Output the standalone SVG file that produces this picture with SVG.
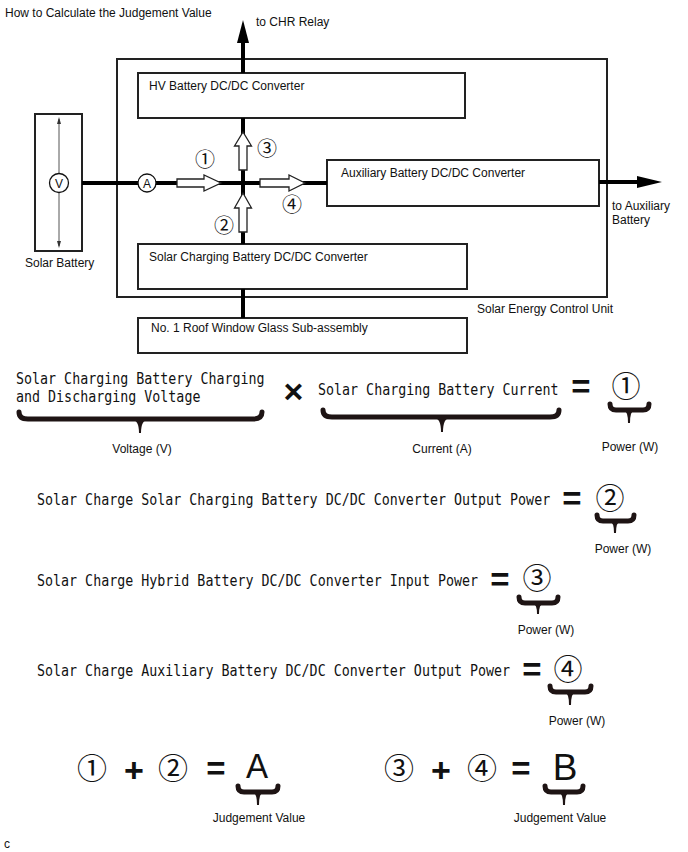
<svg xmlns="http://www.w3.org/2000/svg" width="688" height="852" viewBox="0 0 688 852">
<style>
.box{fill:#fff;stroke:#222;stroke-width:2}
.frame{fill:none;stroke:#222;stroke-width:2}
.wire{stroke:#000;stroke-width:4;fill:none}
.head{fill:#000}
.hollow{fill:#fff;stroke:#222;stroke-width:1.3;stroke-linejoin:miter}
.lbl{font-family:"Liberation Sans",Arial,sans-serif;font-size:12px;fill:#111}
.mono{font-family:"DejaVu Sans Mono","Liberation Mono",monospace;font-size:16.5px;fill:#111}
.circ{font-family:"Noto Sans CJK JP","DejaVu Sans",sans-serif;fill:#111}
.sym{font-family:"Liberation Sans",Arial,sans-serif;fill:#111}
.eq{font-family:"Liberation Sans",Arial,sans-serif;font-size:33px;font-weight:bold;fill:#111}
.brace{stroke:#1e1414;stroke-width:5;fill:none;stroke-linecap:round}
.tip{fill:#1e1414}
.meter{fill:#fff;stroke:#111;stroke-width:1.3}
</style>
<rect width="688" height="852" fill="#fff"/>
<text class="lbl" x="5" y="17">How to Calculate the Judgement Value</text>

<g id="control-unit">
<rect class="frame" x="117" y="59" width="490" height="238"/>
<text class="lbl" x="477" y="313">Solar Energy Control Unit</text>
</g>
<g id="hv-converter">
<rect class="box" x="138" y="73" width="327" height="45"/>
<text class="lbl" x="149" y="90">HV Battery DC/DC Converter</text>
</g>
<g id="aux-converter">
<rect class="box" x="327" y="160" width="272" height="46"/>
<text class="lbl" x="341" y="177">Auxiliary Battery DC/DC Converter</text>
</g>
<g id="solar-converter">
<rect class="box" x="138" y="244" width="329" height="45"/>
<text class="lbl" x="149" y="261">Solar Charging Battery DC/DC Converter</text>
</g>
<g id="roof-glass">
<rect class="box" x="138" y="318" width="329" height="35"/>
<text class="lbl" x="151" y="332">No. 1 Roof Window Glass Sub-assembly</text>
</g>
<g id="solar-battery">
<rect class="box" x="35" y="114" width="47" height="137"/>
<line x1="59" y1="119" x2="59" y2="246" stroke="#555" stroke-width="1"/>
<polygon points="57,124 61,124 59,117" fill="#333"/>
<polygon points="57,241 61,241 59,248" fill="#333"/>
<text class="lbl" x="25" y="267">Solar Battery</text>
</g>

<g id="connectors">
<line class="wire" x1="243" y1="73" x2="243" y2="42"/>
<polygon class="head" points="237,43 249,43 243,20"/>
<line class="wire" x1="243" y1="118" x2="243" y2="244"/>
<line class="wire" x1="82" y1="183" x2="327" y2="183"/>
<line class="wire" x1="599" y1="182" x2="638" y2="182"/>
<polygon class="head" points="637,176 637,188 662,182"/>
<line class="wire" x1="243" y1="289" x2="243" y2="318"/>
<circle class="meter" cx="59" cy="183" r="9.5"/>
<text class="lbl" x="59" y="187.5" text-anchor="middle" font-size="13">V</text>
<circle class="meter" cx="147" cy="183" r="9"/>
<text class="lbl" x="147" y="187.5" text-anchor="middle" font-size="13">A</text>
<polygon class="hollow" points="177,179 204,179 204,175 221,183 204,191 204,187 177,187"/>
<polygon class="hollow" points="260,179 289,179 289,175 305,183 289,191 289,187 260,187"/>
<polygon class="hollow" points="239,170 239,146 234.5,146 243,132 251.5,146 247,146 247,170"/>
<polygon class="hollow" points="239,232 239,208 234.5,208 243,193 251.5,208 247,208 247,232"/>
<text class="circ" x="205" y="167" font-size="20" text-anchor="middle">①</text>
<text class="circ" x="267" y="156" font-size="20" text-anchor="middle">③</text>
<text class="circ" x="224" y="233" font-size="20" text-anchor="middle">②</text>
<text class="circ" x="292" y="212" font-size="20" text-anchor="middle">④</text>
<text class="lbl" x="256" y="26">to CHR Relay</text>
<text class="lbl" x="612" y="210">to Auxiliary</text>
<text class="lbl" x="612" y="224">Battery</text>
</g>

<g id="formula-1">
<text class="mono" transform="translate(16,384) scale(0.808,1)">Solar Charging Battery Charging</text>
<text class="mono" transform="translate(16,402) scale(0.808,1)">and Discharging Voltage</text>
<text class="sym" x="293.5" y="403" font-size="34" font-weight="bold" text-anchor="middle">×</text>
<text class="mono" transform="translate(318,395) scale(0.808,1)">Solar Charging Battery Current</text>
<text class="eq" x="581" y="398" text-anchor="middle">=</text>
<text class="circ" x="626" y="397" font-size="29" text-anchor="middle">①</text>
<path class="brace" d="M19,412 Q19,419 28,419 L253,419 Q262,419 262,412"/>
<path class="tip" d="M132,420 Q139,420 139,433 L141,433 Q141,420 148,420 Z"/>
<path class="brace" d="M323,410 Q323,417 332,417 L550,417 Q559,417 559,410"/>
<path class="tip" d="M434,418 Q441,418 441,432 L443,432 Q443,418 450,418 Z"/>
<path class="brace" d="M610,404 Q610,410 616,410 L643,410 Q649,410 649,404"/>
<path class="tip" d="M624,411 Q628,411 628,423 L630,423 Q630,411 634,411 Z"/>
<text class="lbl" x="142" y="453" text-anchor="middle">Voltage (V)</text>
<text class="lbl" x="442" y="453" text-anchor="middle">Current (A)</text>
<text class="lbl" x="630" y="451" text-anchor="middle">Power (W)</text>
</g>

<g id="formula-2">
<text class="mono" transform="translate(37,505) scale(0.808,1)">Solar Charge Solar Charging Battery DC/DC Converter Output Power</text>
<text class="eq" x="572" y="510" text-anchor="middle">=</text>
<text class="circ" x="610" y="509" font-size="29" text-anchor="middle">②</text>
<path class="brace" d="M597,515 Q597,521 603,521 L628,521 Q634,521 634,515"/>
<path class="tip" d="M610,522 Q614,522 614,533 L616,533 Q616,522 620,522 Z"/>
<text class="lbl" x="623" y="553" text-anchor="middle">Power (W)</text>
</g>

<g id="formula-3">
<text class="mono" transform="translate(37,586) scale(0.808,1)">Solar Charge Hybrid Battery DC/DC Converter Input Power</text>
<text class="eq" x="500" y="591" text-anchor="middle">=</text>
<text class="circ" x="537" y="589" font-size="29" text-anchor="middle">③</text>
<path class="brace" d="M519,597 Q519,603 525,603 L552,603 Q558,603 558,597"/>
<path class="tip" d="M533,604 Q537,604 537,614 L539,614 Q539,604 543,604 Z"/>
<text class="lbl" x="546" y="634" text-anchor="middle">Power (W)</text>
</g>

<g id="formula-4">
<text class="mono" transform="translate(37,676) scale(0.808,1)">Solar Charge Auxiliary Battery DC/DC Converter Output Power</text>
<text class="eq" x="532" y="681" text-anchor="middle">=</text>
<text class="circ" x="568" y="680" font-size="29" text-anchor="middle">④</text>
<path class="brace" d="M550,686 Q550,692 556,692 L585,692 Q591,692 591,686"/>
<path class="tip" d="M565,693 Q569,693 569,705 L571,705 Q571,693 575,693 Z"/>
<text class="lbl" x="577" y="725" text-anchor="middle">Power (W)</text>
</g>

<g id="judgement-a">
<text class="circ" x="92" y="779" font-size="30" text-anchor="middle">①</text>
<text class="sym" x="134" y="782" font-size="34" font-weight="bold" text-anchor="middle">+</text>
<text class="circ" x="173" y="779" font-size="30" text-anchor="middle">②</text>
<text class="eq" x="216" y="780" text-anchor="middle">=</text>
<text class="sym" transform="translate(257,778) scale(0.92,1)" font-size="36" text-anchor="middle">A</text>
<path class="brace" d="M238,786 Q238,792 244,792 L272,792 Q278,792 278,786"/>
<path class="tip" d="M253,793 Q257,793 257,805 L259,805 Q259,793 263,793 Z"/>
<text class="lbl" x="259" y="822" text-anchor="middle">Judgement Value</text>
</g>

<g id="judgement-b">
<text class="circ" x="399" y="779" font-size="30" text-anchor="middle">③</text>
<text class="sym" x="441" y="782" font-size="34" font-weight="bold" text-anchor="middle">+</text>
<text class="circ" x="482" y="779" font-size="30" text-anchor="middle">④</text>
<text class="eq" x="521" y="780" text-anchor="middle">=</text>
<text class="sym" x="565" y="780" font-size="37" text-anchor="middle">B</text>
<path class="brace" d="M545,786 Q545,792 551,792 L577,792 Q583,792 583,786"/>
<path class="tip" d="M559,793 Q563,793 563,805 L565,805 Q565,793 569,793 Z"/>
<text class="lbl" x="560" y="822" text-anchor="middle">Judgement Value</text>
</g>

<text class="lbl" x="4" y="848">c</text>
</svg>
